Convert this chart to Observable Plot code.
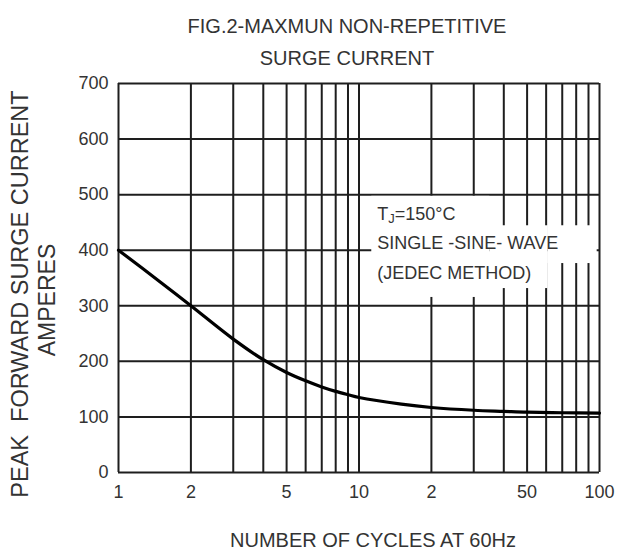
<!DOCTYPE html>
<html>
<head>
<meta charset="utf-8">
<script src="https://cdn.jsdelivr.net/npm/d3@7"></script>
<script src="https://cdn.jsdelivr.net/npm/@observablehq/plot@0.6"></script>
<style>
  html, body { margin: 0; padding: 0; background: #fff; }
</style>
</head>
<body>
<div id="chart"></div>
<script>
// ---- data ----
const cycles = [1, 1.5, 2, 3, 4, 5, 6, 7, 8, 9, 10, 15, 20, 30, 40, 50, 70, 100];
const amps   = [400, 342, 300, 240, 203, 180, 165, 154, 146, 140, 135, 123, 117, 112, 110, 108.5, 107.5, 107];

const xTicks = [1, 2, 5, 10, 20, 50, 100];
const xTickLabels = ["1", "2", "5", "10", "2", "50", "100"];
const yTicks = [0, 100, 200, 300, 400, 500, 600, 700];
const xGrid = [1, 2, 3, 4, 5, 6, 7, 8, 9, 10, 20, 30, 40, 50, 60, 70, 80, 90, 100];

const titleLines = ["FIG.2-MAXMUN NON-REPETITIVE", "SURGE CURRENT"];
const xLabel = "NUMBER OF CYCLES AT 60Hz";
const yLabelLines = ["PEAK  FORWARD SURGE CURRENT", "AMPERES"];
const noteLines = ["TJ=150°C", "SINGLE -SINE- WAVE", "(JEDEC METHOD)"];
const noteY = [464, 412, 358];
const noteX = 11.9;
// white box behind the note (irregular in the original)
const boxX1 = [11.3, 35, 61];
const boxX2 = [35, 61, 97.8];
const boxY1 = [315, 331, 376];
const boxY2 = [497, 444, 444];

const data = cycles.map((c, i) => ({c, a: amps[i]}));
const notes = noteLines.map((t, i) => ({t, x: noteX, y: noteY[i]}));
const boxes = boxX1.map((x1, i) => ({x1, x2: boxX2[i], y1: boxY1[i], y2: boxY2[i]}));

const ink = "#1e1e1e";
const txt = "#333";

const plot = Plot.plot({
  width: 623,
  height: 558,
  marginLeft: 118,
  marginRight: 24,
  marginTop: 83,
  marginBottom: 86,
  style: {fontFamily: "'Liberation Sans', Arial, sans-serif", fontSize: "18px", background: "#fff", color: txt},
  x: {type: "log", domain: [1, 100]},
  y: {domain: [0, 700]},
  marks: [
    Plot.ruleX(xGrid, {stroke: ink, strokeWidth: 2}),
    Plot.ruleY(yTicks, {stroke: ink, strokeWidth: 2}),
    Plot.rect(boxes, {x1: "x1", x2: "x2", y1: "y1", y2: "y2", fill: "#fff"}),
    Plot.line(data, {x: "c", y: "a", stroke: "#000", strokeWidth: 3.2, curve: "catmull-rom"}),
    Plot.text(notes, {x: "x", y: "y", text: "t", textAnchor: "start", fontSize: 18, fill: txt}),
    Plot.axisX({ticks: xTicks, tickFormat: d => xTickLabels[xTicks.indexOf(d)], tickSize: 0, tickPadding: 13, label: null, fontSize: 18, fill: txt}),
    Plot.axisY({ticks: yTicks, tickSize: 0, tickPadding: 10, label: null, fontSize: 18, fill: txt}),
    Plot.text([titleLines[0]], {frameAnchor: "top", textAnchor: "middle", dx: -12, dy: -65, fontSize: 20, fill: txt}),
    Plot.text([titleLines[1]], {frameAnchor: "top", textAnchor: "middle", dx: -12, dy: -33, fontSize: 20, fill: txt}),
    Plot.text([xLabel], {frameAnchor: "bottom", textAnchor: "middle", dx: 14, dy: 74, fontSize: 20, fill: txt}),
    Plot.text([yLabelLines[0]], {frameAnchor: "left", textAnchor: "middle", dx: -98, dy: 16, rotate: -90, fontSize: 23.5, fill: txt}),
    Plot.text([yLabelLines[1]], {frameAnchor: "left", textAnchor: "middle", dx: -71, dy: 22, rotate: -90, fontSize: 23, fill: txt})
  ]
});

// subscript-like small J in "TJ"
plot.querySelectorAll("text").forEach(el => {
  if (el.textContent === noteLines[0]) {
    el.textContent = "";
    const ns = "http://www.w3.org/2000/svg";
    const a = document.createElementNS(ns, "tspan"); a.textContent = "T";
    const b = document.createElementNS(ns, "tspan"); b.textContent = "J"; b.setAttribute("font-size", "13"); b.setAttribute("dy", "3");
    const c = document.createElementNS(ns, "tspan"); c.textContent = "=150°C"; c.setAttribute("dy", "-3");
    el.append(a, b, c);
  }
});

document.getElementById("chart").append(plot);
</script>
</body>
</html>
